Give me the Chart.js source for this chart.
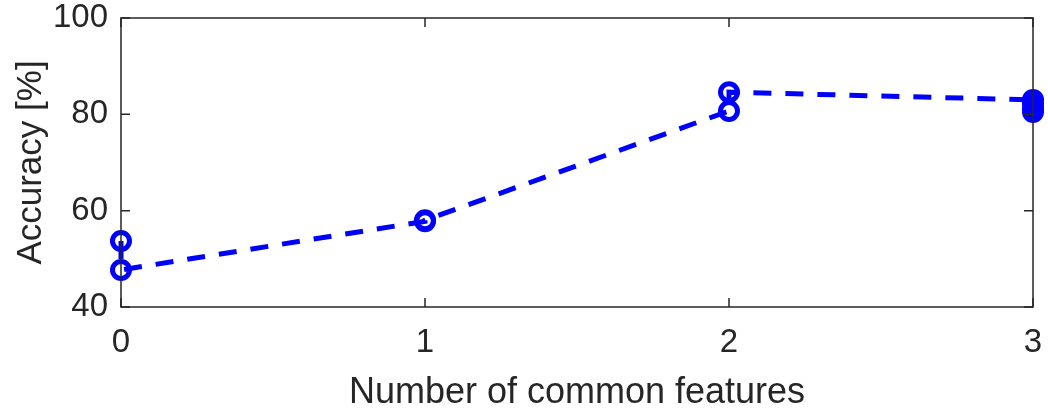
<!DOCTYPE html>
<html lang="en">
<head>
    <meta charset="UTF-8">
    <title>Accuracy vs common features</title>
    <script src="https://cdn.jsdelivr.net/npm/chart.js"></script>
    <style>
        body {
            margin: 0;
            background-color: #ffffff;
        }
        #wrap {
            width: 1048px;
            height: 410px;
        }
    </style>
</head>
<body>
    <div id="wrap"><canvas id="accChart" width="1048" height="410"></canvas></div>

    <script>
        const commonFeatures = [0, 0, 1, 1, 2, 2, 3, 3, 3, 3];
        const accuracy = [53.7, 47.7, 57.8, 58.0, 80.7, 84.6, 83.0, 82.2, 81.2, 80.5];
        const xTicks = [0, 1, 2, 3];
        const yTicks = [40, 60, 80, 100];

        const axisColor = '#262626';
        const fontFamily = "'Liberation Sans', Arial, sans-serif";

        // MATLAB-like box with inward ticks
        const boxPlugin = {
            id: 'boxTicks',
            afterDraw(chart) {
                const { ctx, chartArea: a, scales } = chart;
                const len = 9;
                ctx.save();
                ctx.strokeStyle = axisColor;
                ctx.lineWidth = 1.5;
                ctx.strokeRect(a.left, a.top, a.right - a.left, a.bottom - a.top);
                ctx.beginPath();
                xTicks.forEach(v => {
                    const px = scales.x.getPixelForValue(v);
                    ctx.moveTo(px, a.bottom); ctx.lineTo(px, a.bottom - len);
                    ctx.moveTo(px, a.top); ctx.lineTo(px, a.top + len);
                });
                yTicks.forEach(v => {
                    const py = scales.y.getPixelForValue(v);
                    ctx.moveTo(a.left, py); ctx.lineTo(a.left + len, py);
                    ctx.moveTo(a.right, py); ctx.lineTo(a.right - len, py);
                });
                ctx.stroke();
                ctx.restore();
            }
        };

        const points = commonFeatures.map((f, i) => ({ x: f, y: accuracy[i] }));

        new Chart(document.getElementById('accChart'), {
            type: 'scatter',
            data: {
                datasets: [{
                    data: points,
                    showLine: true,
                    borderColor: '#0000ff',
                    borderWidth: 5,
                    borderDash: [18, 14],
                    pointRadius: 8.5,
                    pointBorderWidth: 5,
                    pointBorderColor: '#0000ff',
                    pointBackgroundColor: 'rgba(0,0,0,0)',
                    clip: false
                }]
            },
            plugins: [boxPlugin],
            options: {
                responsive: false,
                animation: false,
                layout: { padding: { left: 0, right: 15, top: 18, bottom: 0 } },
                plugins: { legend: { display: false }, tooltip: { enabled: false } },
                scales: {
                    x: {
                        type: 'linear',
                        min: 0,
                        max: 3,
                        afterBuildTicks: s => { s.ticks = xTicks.map(v => ({ value: v })); },
                        afterFit: s => {
                            s.height = 103;
                            s.paddingLeft = 0; s.paddingRight = 0;
                        },
                        grid: { display: false, drawTicks: false },
                        border: { display: false },
                        ticks: {
                            color: axisColor,
                            padding: 16,
                            font: { family: fontFamily, size: 33 }
                        },
                        title: {
                            display: true,
                            text: 'Number of common features',
                            color: axisColor,
                            padding: { top: 6, bottom: -5 },
                            font: { family: fontFamily, size: 36 }
                        }
                    },
                    y: {
                        min: 40,
                        max: 100,
                        afterBuildTicks: s => { s.ticks = yTicks.map(v => ({ value: v })); },
                        afterFit: s => {
                            s.width = 121;
                            s.paddingTop = 0; s.paddingBottom = 0;
                        },
                        grid: { display: false, drawTicks: false },
                        border: { display: false },
                        ticks: {
                            color: axisColor,
                            padding: 13,
                            font: { family: fontFamily, size: 33 }
                        },
                        title: {
                            display: true,
                            text: 'Accuracy [%]',
                            color: axisColor,
                            padding: { top: 10, bottom: 0 },
                            font: { family: fontFamily, size: 35 }
                        }
                    }
                }
            }
        });
    </script>
</body>
</html>
